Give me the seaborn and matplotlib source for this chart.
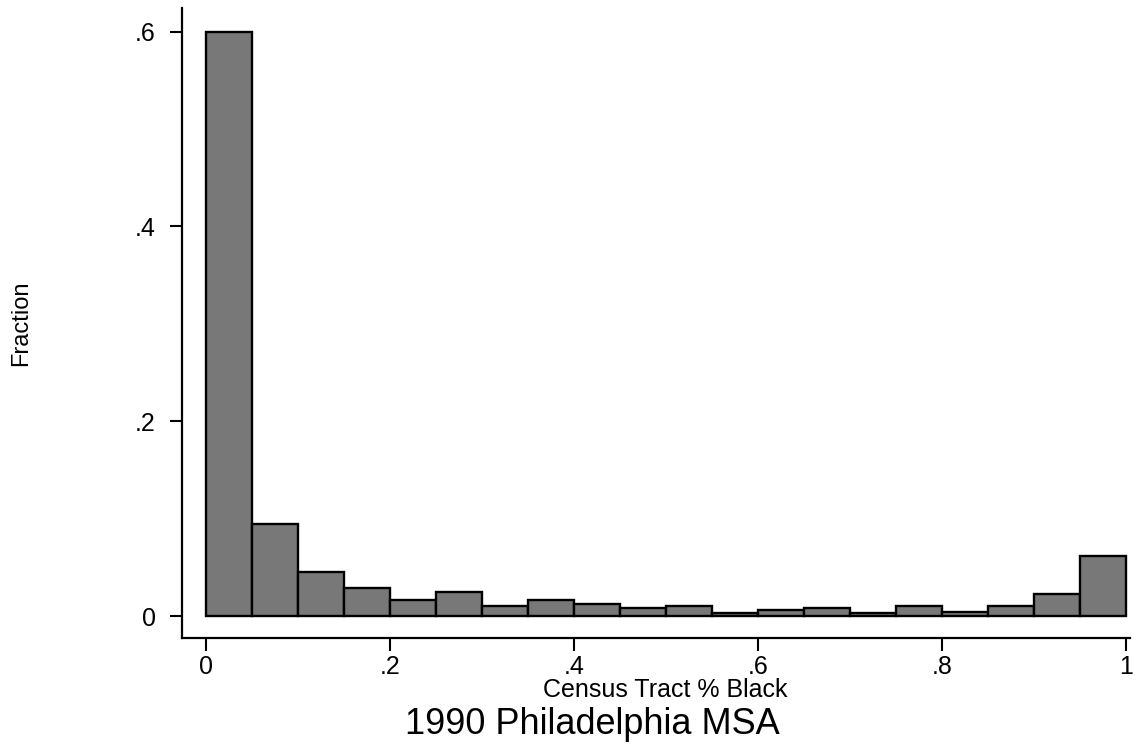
#!/usr/bin/env python3
"""Histogram of census tract % black, 1990 Philadelphia MSA (Stata-style)."""

import numpy as np
import pandas as pd
import matplotlib
matplotlib.use("Agg")
import matplotlib.pyplot as plt
import seaborn as sns

# Fraction of tracts in each 0.05-wide bin of % black
bin_width = 0.05
bin_lefts = [0.00, 0.05, 0.10, 0.15, 0.20, 0.25, 0.30, 0.35, 0.40, 0.45,
             0.50, 0.55, 0.60, 0.65, 0.70, 0.75, 0.80, 0.85, 0.90, 0.95]
fractions = [0.600, 0.094, 0.045, 0.029, 0.016, 0.025, 0.010, 0.016, 0.012, 0.008,
             0.010, 0.003, 0.006, 0.008, 0.003, 0.010, 0.004, 0.010, 0.023, 0.062]

x_ticks = [0, 0.2, 0.4, 0.6, 0.8, 1.0]
x_tick_labels = ["0", ".2", ".4", ".6", ".8", "1"]
y_ticks = [0, 0.2, 0.4, 0.6]
y_tick_labels = ["0", ".2", ".4", ".6"]

df = pd.DataFrame({
    "pct_black": [b + bin_width / 2 for b in bin_lefts],
    "fraction": fractions,
})
edges = bin_lefts + [bin_lefts[-1] + bin_width]

sns.set_style("white")
plt.rcParams["font.family"] = ["Liberation Sans", "DejaVu Sans"]
plt.rcParams["text.color"] = "black"
plt.rcParams["axes.labelcolor"] = "black"
plt.rcParams["xtick.color"] = "black"
plt.rcParams["ytick.color"] = "black"

fig = plt.figure(figsize=(11.42, 7.48), dpi=100)
ax = fig.add_axes([182 / 1142, 1 - 638 / 748, (1130 - 182) / 1142, (638 - 8) / 748])

sns.histplot(data=df, x="pct_black", weights="fraction", bins=edges,
             color="#787878", edgecolor="black", linewidth=1.7, alpha=1.0, ax=ax)

ax.set_xlim(-24 / 920, 1 + 4 / 920)
ax.set_ylim(-22 / 974, 608 / 974)

ax.set_xticks(x_ticks)
ax.set_xticklabels(x_tick_labels)
ax.set_yticks(y_ticks)
ax.set_yticklabels(y_tick_labels)
ax.tick_params(axis="both", direction="out", length=9, width=1.5,
               labelsize=18, bottom=True, left=True)
ax.tick_params(axis="x", pad=3)
ax.tick_params(axis="y", pad=10)

for side in ["top", "right"]:
    ax.spines[side].set_visible(False)
for side in ["left", "bottom"]:
    ax.spines[side].set_color("black")
    ax.spines[side].set_linewidth(1.6)

ax.set_xlabel("")
ax.set_ylabel("")
fig.text(665 / 1142, 1 - 690 / 748, "Census Tract % Black", fontsize=18,
         ha="center", va="center")
fig.text(21 / 1142, 1 - 323 / 748, "Fraction", rotation=90, fontsize=17,
         ha="center", va="center")
fig.text(592 / 1142, 1 - 724 / 748, "1990 Philadelphia MSA", fontsize=26,
         ha="center", va="center")

fig.savefig("out.png", dpi=100)
plt.close(fig)
